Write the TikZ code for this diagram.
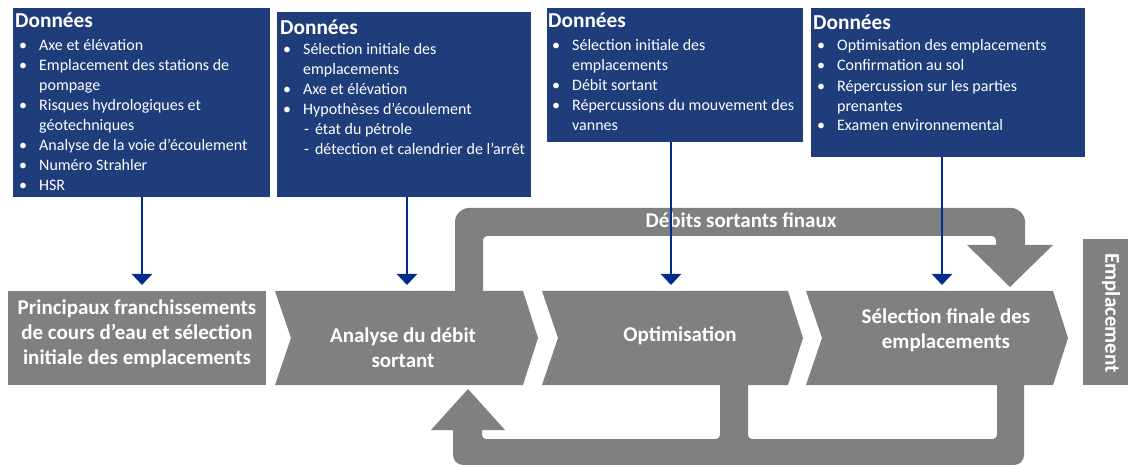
\documentclass[tikz,border=0pt]{standalone}
\usepackage{fontspec}
\setmainfont{Carlito}
\usetikzlibrary{arrows.meta}
\definecolor{navy}{RGB}{31,61,122}
\definecolor{arrowblue}{RGB}{0,45,140}
\definecolor{greyc}{RGB}{128,128,128}
\newcommand\bul{\llap{\textbullet\hspace{12pt}}}
\tikzset{
  databox/.style={fill=navy, draw=none, anchor=north west, inner sep=0pt},
  head/.style={anchor=base west, inner sep=0pt, text=white, font=\fontsize{21.3}{24}\selectfont\bfseries},
  itm/.style={anchor=base west, inner sep=0pt, text=white, font=\fontsize{16}{18}\selectfont},
  feed/.style={draw=arrowblue, line width=2.2pt, -{Triangle[width=20pt,length=11pt]}},
  chevtext/.style={text=white, font=\fontsize{21}{25}\selectfont\bfseries, align=center, inner sep=0pt},
}
\begin{document}
\begin{tikzpicture}[x=1pt,y=-1pt]
\useasboundingbox (0,0) rectangle (1128,465);
% top feedback loop
\fill[greyc] (455,292) [rounded corners=14pt] -- (455,208) -- (1025,208) [sharp corners] -- (1025,246) -- (996,246) [rounded corners=4pt] -- (996,236) -- (483,236) [sharp corners] -- (483,292) -- cycle;
\fill[greyc] (967,245) -- (1053,245) -- (1010,287) -- cycle;
\node[chevtext] (loopa) at (741,220) {Débits sortants finaux};
% bottom feedback loop
\fill[greyc] (453,430) [rounded corners=10pt] -- (453,465) -- (1024,465) [sharp corners] -- (1024,380) -- (997,380) [rounded corners=4pt] -- (997,439) -- (748,439) [sharp corners] -- (748,380) -- (720,380) [rounded corners=4pt] -- (720,439) -- (482,439) [sharp corners] -- (482,430) -- cycle;
\fill[greyc] (431,430) -- (505,430) -- (468,389) -- cycle;
% chevrons
\fill[greyc] (8,291) rectangle (266,385);
\fill[greyc] (275,291) -- (523,291) -- (538,338) -- (523,385) -- (275,385) -- (291,338) -- cycle;
\fill[greyc] (542,291) -- (788,291) -- (803,338) -- (788,385) -- (542,385) -- (558,338) -- cycle;
\fill[greyc] (806,291) -- (1053,291) -- (1068,338) -- (1053,385) -- (806,385) -- (822,338) -- cycle;
\fill[greyc] (1083,239) rectangle (1128,385);
\node[chevtext] (c1) at (137,334) {Principaux franchissements\\de cours d’eau et sélection\\initiale des emplacements};
\node[chevtext] (c2) at (403,348) {Analyse du débit\\sortant};
\node[chevtext] (c3) at (680,336) {Optimisation};
\node[chevtext] (c4) at (946,330) {Sélection finale des\\emplacements};
\node[chevtext, rotate=-90] (c5) at (1111,313) {Emplacement};
% data boxes
\node[databox, minimum width=257pt, minimum height=189pt] (b1) at (13,8) {};
\node[databox, minimum width=254pt, minimum height=185pt] (b2) at (277,12) {};
\node[databox, minimum width=256pt, minimum height=134pt] (b3) at (547,8) {};
\node[databox, minimum width=274pt, minimum height=149pt] (b4) at (811,8) {};
% box 1
\node[head] (h1) at (15,28) {Données};
\node[itm] (l11) at (39,51) {\bul Axe et élévation};
\node[itm] (l12) at (39,71) {\bul Emplacement des stations de};
\node[itm] (l13) at (39,91) {pompage};
\node[itm] (l14) at (39,111) {\bul Risques hydrologiques et};
\node[itm] (l15) at (39,131) {géotechniques};
\node[itm] (l16) at (39,151) {\bul Analyse de la voie d’écoulement};
\node[itm] (l17) at (39,171) {\bul Numéro Strahler};
\node[itm] (l18) at (39,191) {\bul HSR};
% box 2
\node[head] (h2) at (280,35) {Données};
\node[itm] (l21) at (303,55) {\bul Sélection initiale des};
\node[itm] (l22) at (303,75) {emplacements};
\node[itm] (l23) at (303,95) {\bul Axe et élévation};
\node[itm] (l24) at (303,115) {\bul Hypothèses d’écoulement};
\node[itm] (l25) at (304,135) {-\hspace{6pt}état du pétrole};
\node[itm] (l26) at (304,155) {-\hspace{6pt}détection et calendrier de l’arrêt};
% box 3
\node[head] (h3) at (548,28) {Données};
\node[itm] (l31) at (572,51) {\bul Sélection initiale des};
\node[itm] (l32) at (572,71) {emplacements};
\node[itm] (l33) at (572,91) {\bul Débit sortant};
\node[itm] (l34) at (572,111) {\bul Répercussions du mouvement des};
\node[itm] (l35) at (572,131) {vannes};
% box 4
\node[head] (h4) at (813,30) {Données};
\node[itm] (l41) at (837,51) {\bul Optimisation des emplacements};
\node[itm] (l42) at (837,71) {\bul Confirmation au sol};
\node[itm] (l43) at (837,92) {\bul Répercussion sur les parties};
\node[itm] (l44) at (837,112) {prenantes};
\node[itm] (l45) at (837,131) {\bul Examen environnemental};
% feed arrows
\coordinate (t1) at (142,285);
\coordinate (t2) at (407,285);
\coordinate (t3) at (671,285);
\coordinate (t4) at (942,285);
\draw[feed] (b1.south -| t1) -- (t1);
\draw[feed] (b2.south -| t2) -- (t2);
\draw[feed] (b3.south -| t3) -- (t3);
\draw[feed] (b4.south -| t4) -- (t4);
\end{tikzpicture}
\end{document}
